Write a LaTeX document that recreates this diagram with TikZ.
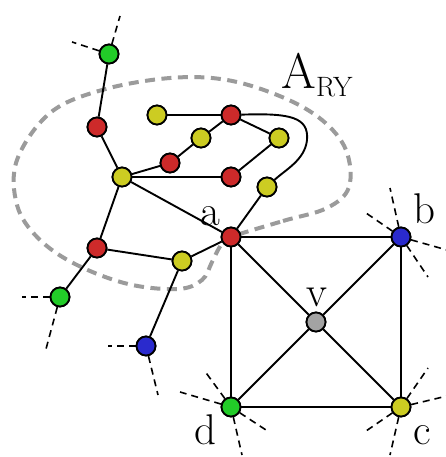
\documentclass[tikz,border=0pt]{standalone}
\usepackage{fontspec}
\setmainfont{Latin Modern Roman}
\begin{document}
\begin{tikzpicture}[x=1pt,y=-1pt,
  vtx/.style={circle,draw=black,line width=1.8pt,minimum size=19pt,inner sep=0pt},
  vred/.style={vtx,fill=nred},
  vyel/.style={vtx,fill=nyel},
  vgrn/.style={vtx,fill=ngrn},
  vblu/.style={vtx,fill=nblu},
  vgry/.style={vtx,fill=ngry},
  edge/.style={line width=1.9pt},
  stub/.style={line width=1.6pt,dash pattern=on 7pt off 5pt},
  region/.style={line width=4pt,draw=rgray,dash pattern=on 10pt off 6.5pt},
  lbl/.style={font=\fontsize{43}{50}\selectfont,inner sep=0pt,anchor=base}]
\definecolor{nred}{RGB}{205,42,42}
\definecolor{nyel}{RGB}{204,204,34}
\definecolor{ngrn}{RGB}{34,204,40}
\definecolor{nblu}{RGB}{42,42,205}
\definecolor{ngry}{RGB}{163,163,163}
\definecolor{rgray}{RGB}{155,155,155}
\useasboundingbox (0,0) rectangle (445,457);

% region outline
\draw[region] plot[smooth cycle,tension=0.6] coordinates {
 (231,237) (283,221) (327,208) (349,187) (346,150) (322,120) (282,97) (227,80)
 (170,78) (102,90) (50,113) (17,160) (17,205) (38,238) (75,264) (128,284)
 (178,289) (202,280) (212,262) (221,245)};

% coordinates of stubs' free ends
\coordinate (g1a) at (120,16);
\coordinate (g1b) at (72,42);
\coordinate (g2a) at (22,297);
\coordinate (g2b) at (46,349);
\coordinate (b1a) at (108,346);
\coordinate (b1b) at (158,395);
\coordinate (da) at (180,392);
\coordinate (db) at (204,370);
\coordinate (dc) at (266,430);
\coordinate (dd) at (242,455);
\coordinate (ba) at (390,188);
\coordinate (bb) at (366,213);
\coordinate (bc) at (447,250);
\coordinate (bd) at (428,277);
\coordinate (ca) at (428,368);
\coordinate (cb) at (447,396);
\coordinate (cc) at (366,431);
\coordinate (cd) at (390,455);
\coordinate (bend) at (307,140);

% nodes
\node[vgrn] (G1) at (109,54) {};
\node[vred] (R1) at (97,127) {};
\node[vyel] (Y1) at (122,177) {};
\node[vyel] (Y2) at (157,115) {};
\node[vred] (R2) at (231,115) {};
\node[vyel] (Y3) at (201,138) {};
\node[vred] (R3) at (170,163) {};
\node[vyel] (Y4) at (279,138) {};
\node[vred] (R4) at (231,177) {};
\node[vyel] (Y5) at (267,187) {};
\node[vred] (a) at (231,237) {};
\node[vred] (R5) at (97,248) {};
\node[vyel] (Y6) at (182,261) {};
\node[vgrn] (G2) at (60,297) {};
\node[vblu] (B1) at (146,346) {};
\node[vgry] (v) at (316,322) {};
\node[vblu] (b) at (401,237) {};
\node[vgrn] (d) at (231,407) {};
\node[vyel] (c) at (401,407) {};

% stubs
\draw[stub] (G1) -- (g1a); \draw[stub] (G1) -- (g1b);
\draw[stub] (G2) -- (g2a); \draw[stub] (G2) -- (g2b);
\draw[stub] (B1) -- (b1a); \draw[stub] (B1) -- (b1b);
\draw[stub] (d) -- (da); \draw[stub] (d) -- (db); \draw[stub] (d) -- (dc); \draw[stub] (d) -- (dd);
\draw[stub] (b) -- (ba); \draw[stub] (b) -- (bb); \draw[stub] (b) -- (bc); \draw[stub] (b) -- (bd);
\draw[stub] (c) -- (ca); \draw[stub] (c) -- (cb); \draw[stub] (c) -- (cc); \draw[stub] (c) -- (cd);

% edges
\draw[edge] (G1) -- (R1);
\draw[edge] (R1) -- (Y1);
\draw[edge] (Y1) -- (R3);
\draw[edge] (R3) -- (Y3);
\draw[edge] (Y3) -- (R2);
\draw[edge] (Y2) -- (R2);
\draw[edge] (R2) -- (Y4);
\draw[edge] (Y4) -- (R4);
\draw[edge] (Y1) -- (R4);
\draw[edge] (Y1) -- (a);
\draw[edge] (Y1) -- (R5);
\draw[edge] (R5) -- (Y6);
\draw[edge] (Y6) -- (a);
\draw[edge] (R5) -- (G2);
\draw[edge] (Y6) -- (B1);
\draw[edge] (R2) .. controls (290,113) and (309,117) .. (bend) .. controls (305,160) and (285,170) .. (Y5);
\draw[edge] (Y5) -- (a);
\draw[edge] (a) -- (b);
\draw[edge] (b) -- (c);
\draw[edge] (c) -- (d);
\draw[edge] (d) -- (a);
\draw[edge] (a) -- (v);
\draw[edge] (v) -- (c);
\draw[edge] (b) -- (v);
\draw[edge] (v) -- (d);

% redraw nodes on top
\foreach \n/\s in {G1/vgrn,R1/vred,Y1/vyel,Y2/vyel,R2/vred,Y3/vyel,R3/vred,Y4/vyel,R4/vred,Y5/vyel,a/vred,R5/vred,Y6/vyel,G2/vgrn,B1/vblu,v/vgry,b/vblu,d/vgrn,c/vyel}
  \node[\s] at (\n) {};

% labels
\node[lbl] (la) at (210,225) {a};
\node[lbl] (lb) at (424,223) {b};
\node[lbl] (lv) at (317,306) {v};
\node[lbl] (ld) at (205,444) {d};
\node[lbl] (lc) at (422,444) {c};
\node[inner sep=0pt,anchor=base west,font=\fontsize{50}{55}\selectfont] (lA) at (281,89) {A};
\node[inner sep=0pt,anchor=base west,font=\fontsize{28}{30}\selectfont] (lRY) at (316,97) {RY};
\end{tikzpicture}
\end{document}
